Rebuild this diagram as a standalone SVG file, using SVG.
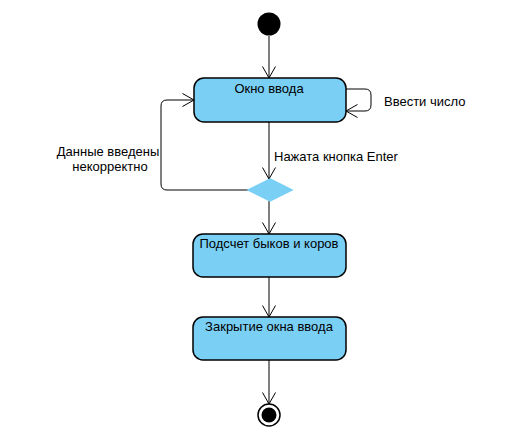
<svg xmlns="http://www.w3.org/2000/svg" width="529" height="447" viewBox="0 0 529 447">
<defs>
<marker id="open" markerWidth="14" markerHeight="14" refX="12" refY="7" orient="auto" markerUnits="userSpaceOnUse">
<path d="M0.5,0.5 L12,7 L0.5,13.5" fill="none" stroke="#000" stroke-width="1"/>
</marker>
<style>
.node{fill:#7ACFF5;stroke:#000;stroke-width:1.5}
.edge{fill:none;stroke:#000;stroke-width:1;marker-end:url(#open)}
text{font-family:"Liberation Sans",Arial,sans-serif;font-size:13px;fill:#000}
.c{text-anchor:middle}
</style>
</defs>
<rect width="529" height="447" fill="#fff"/>
<g id="connectors">
<path class="edge" d="M269,36 V78"/>
<path class="edge" d="M346,89 H365 Q371,89 371,95 V105 Q371,111 365,111 H346"/>
<path class="edge" d="M269,122 V179"/>
<path class="edge" d="M248,190 H167 Q161,190 161,184 V106 Q161,100 167,100 H194"/>
<path class="edge" d="M269,201 V234"/>
<path class="edge" d="M269,277 V317"/>
<path class="edge" d="M269,360 V404"/>
</g>
<g id="start"><circle cx="269" cy="24" r="11.5" fill="#000"/></g>
<g id="input"><rect class="node" x="194" y="78" width="152" height="44" rx="10"/><text class="c" x="269" y="93">Окно ввода</text></g>
<g id="label-enter-number"><text x="384" y="106">Ввести число</text></g>
<g id="label-enter"><text x="274" y="161">Нажата кнопка Enter</text></g>
<g id="label-incorrect"><text class="c" x="108" y="156">Данные введены</text><text class="c" x="110" y="171">некорректно</text></g>
<g id="decision"><polygon class="node" points="270,179 292,190 270,201 248,190" stroke-width="1" style="stroke:#7ACFF5"/></g>
<g id="count"><rect class="node" x="193" y="234" width="153" height="43" rx="10"/><text class="c" x="269" y="248">Подсчет быков и коров</text></g>
<g id="close"><rect class="node" x="193" y="317" width="153" height="43" rx="10"/><text class="c" x="269" y="331">Закрытие окна ввода</text></g>
<g id="end"><circle cx="269" cy="415" r="11" fill="#fff" stroke="#000" stroke-width="1.5"/><circle cx="269" cy="415" r="7.5" fill="#000"/></g>
</svg>
